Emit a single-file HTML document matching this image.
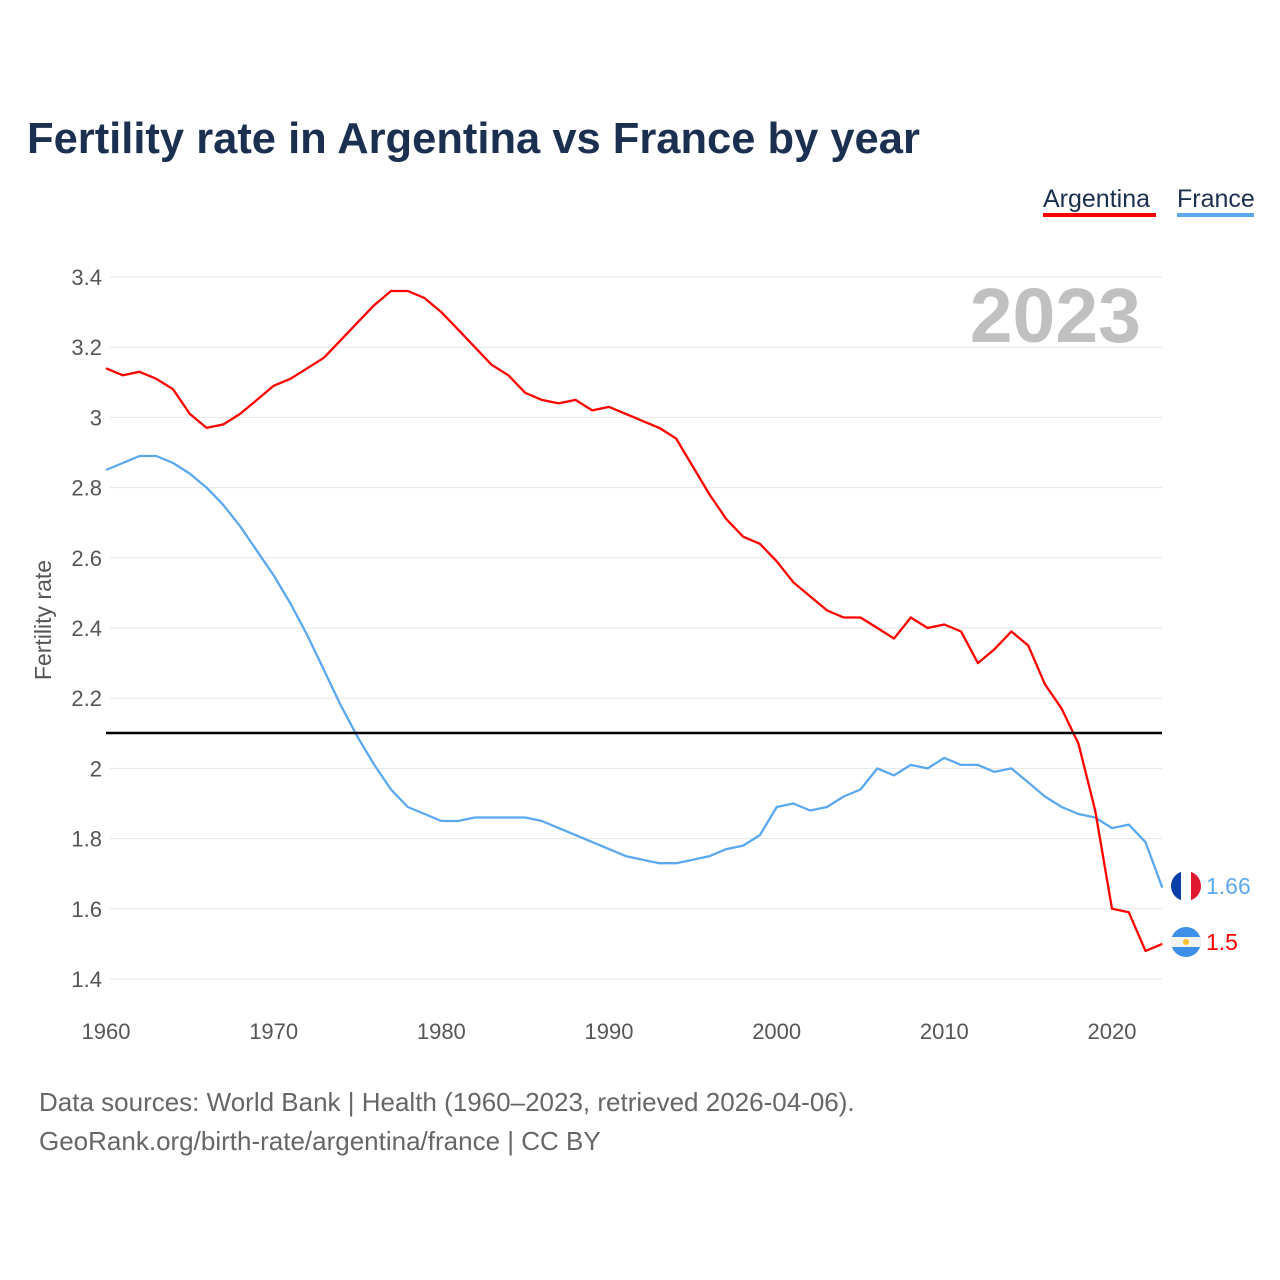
<!DOCTYPE html>
<html><head><meta charset="utf-8"><style>
body{margin:0;background:#fff;font-family:"Liberation Sans",sans-serif;}
svg{display:block}
</style></head><body>
<svg width="1280" height="1280" viewBox="0 0 1280 1280">
<text x="27" y="153" font-size="43.5" font-weight="bold" fill="#1b3050">Fertility rate in Argentina vs France by year</text>
<g>
<text x="1043" y="207" font-size="25" fill="#1b3050">Argentina</text>
<rect x="1043" y="213" width="113" height="4" fill="#ff0000"/>
<text x="1177" y="207" font-size="25" fill="#1b3050">France</text>
<rect x="1177" y="213" width="77" height="4" fill="#5ca8ef"/>
</g>
<text x="1141" y="342" font-size="77" font-weight="bold" fill="#c0c0c0" text-anchor="end">2023</text>
<text transform="translate(51,620) rotate(-90)" font-size="23" fill="#555" text-anchor="middle">Fertility rate</text>
<g id="grid"></g><g id="yt"></g><g id="xt"></g><g id="lines"></g>
<line x1="106" x2="1162" y1="733" y2="733" stroke="#000" stroke-width="2.5"/>
<g>
<clipPath id="cf"><circle cx="1186" cy="886" r="15"/></clipPath>
<g clip-path="url(#cf)"><rect x="1171" y="871" width="10" height="30" fill="#0a3ea8"/><rect x="1181" y="871" width="10" height="30" fill="#fff"/><rect x="1191" y="871" width="10" height="30" fill="#e0182d"/></g></g>
<g>
<clipPath id="ca"><circle cx="1186" cy="942" r="15"/></clipPath>
<g clip-path="url(#ca)"><rect x="1171" y="927" width="30" height="30" fill="#3d8fe8"/><rect x="1171" y="937" width="30" height="10" fill="#f4f4f4"/><circle cx="1186" cy="942" r="3" fill="#f6c02a"/></g></g>
<text x="1206" y="894" font-size="23" fill="#5ca8ef">1.66</text>
<text x="1206" y="950" font-size="23" fill="#ff0000">1.5</text>
<text x="39" y="1111" font-size="26" fill="#666">Data sources: World Bank | Health (1960–2023, retrieved 2026-04-06).</text>
<text x="39" y="1150" font-size="26" fill="#666">GeoRank.org/birth-rate/argentina/france | CC BY</text>
</svg>
<script>
const years=[];for(let y=1960;y<=2023;y++)years.push(y);
const argentina=[3.14,3.12,3.13,3.11,3.08,3.01,2.97,2.98,3.01,3.05,3.09,3.11,3.14,3.17,3.22,3.27,3.32,3.36,3.36,3.34,3.30,3.25,3.20,3.15,3.12,3.07,3.05,3.04,3.05,3.02,3.03,3.01,2.99,2.97,2.94,2.86,2.78,2.71,2.66,2.64,2.59,2.53,2.49,2.45,2.43,2.43,2.40,2.37,2.43,2.40,2.41,2.39,2.30,2.34,2.39,2.35,2.24,2.17,2.07,1.88,1.60,1.59,1.48,1.50];
const france=[2.85,2.87,2.89,2.89,2.87,2.84,2.80,2.75,2.69,2.62,2.55,2.47,2.38,2.28,2.18,2.09,2.01,1.94,1.89,1.87,1.85,1.85,1.86,1.86,1.86,1.86,1.85,1.83,1.81,1.79,1.77,1.75,1.74,1.73,1.73,1.74,1.75,1.77,1.78,1.81,1.89,1.90,1.88,1.89,1.92,1.94,2.00,1.98,2.01,2.00,2.03,2.01,2.01,1.99,2.00,1.96,1.92,1.89,1.87,1.86,1.83,1.84,1.79,1.66];
const yTicks=[1.4,1.6,1.8,2,2.2,2.4,2.6,2.8,3,3.2,3.4];
const yTickLabels=["1.4","1.6","1.8","2","2.2","2.4","2.6","2.8","3","3.2","3.4"];
const xTicks=[1960,1970,1980,1990,2000,2010,2020];
const NS="http://www.w3.org/2000/svg";
const xs=y=>106+(y-1960)*(1006/60);
const ys=v=>277+(3.4-v)*351;
function mk(tag,attrs,parent){const e=document.createElementNS(NS,tag);for(const k in attrs)e.setAttribute(k,attrs[k]);document.getElementById(parent).appendChild(e);return e;}
yTicks.forEach((v,i)=>{
 const l=mk('line',{x1:110,x2:1162,y1:ys(v),y2:ys(v),stroke:'#e6e6e6','stroke-width':1},'grid');
 
 
 const t=mk('text',{x:102,y:ys(v)+8,'font-size':22,fill:'#555','text-anchor':'end'},'yt');
 t.textContent=yTickLabels[i];
 
 
});
xTicks.forEach(y=>{
 const t=mk('text',{x:xs(y),y:1039,'font-size':22,fill:'#555','text-anchor':'middle'},'xt');
 t.textContent=y;
 
 
});
function line(data,color,name){
 const d=data.map((v,i)=>(i?'L':'M')+xs(years[i]).toFixed(1)+','+ys(v).toFixed(1)).join('');
 const p=mk('path',{d:d,fill:'none',stroke:color,'stroke-width':2.3,'stroke-linejoin':'round'},'lines');
 
 
}
line(france,'#5ca8ef','france-line');
line(argentina,'#ff0000','argentina-line');
</script>
</body></html>
